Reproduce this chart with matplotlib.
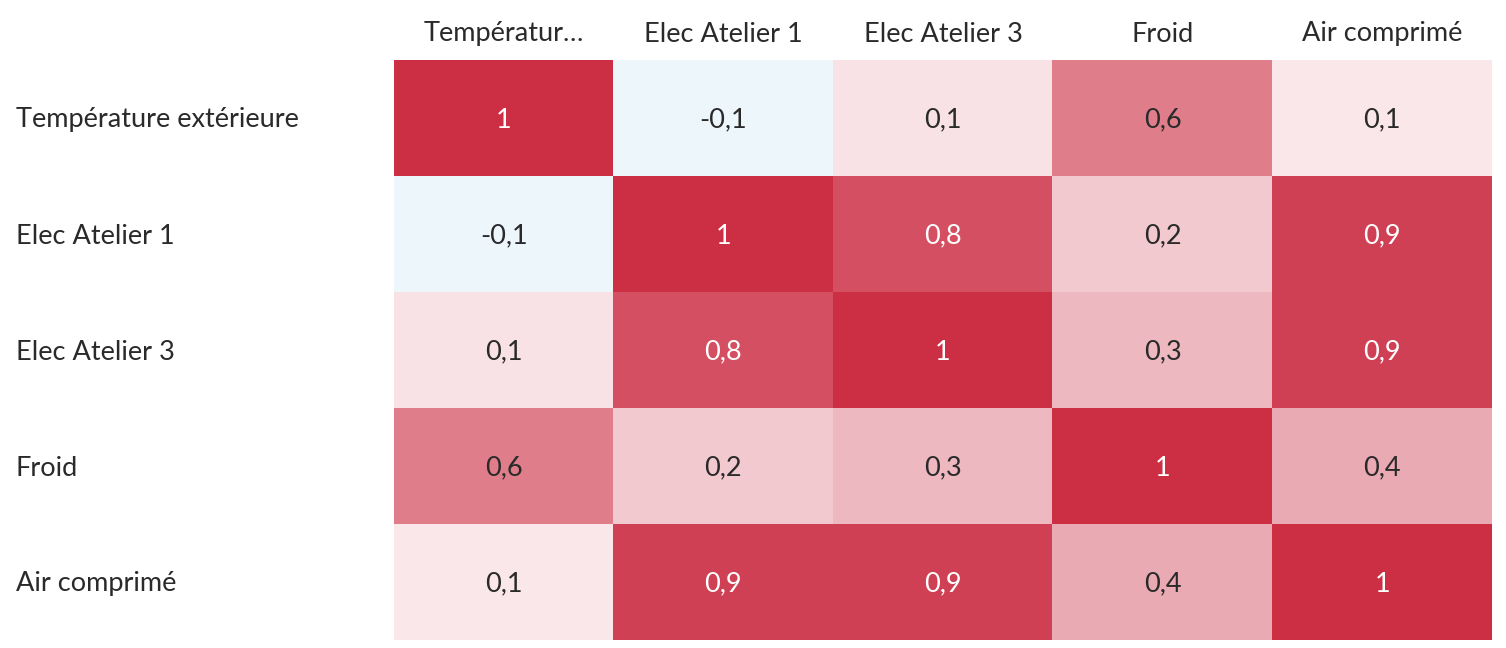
import numpy as np
import matplotlib
matplotlib.use("Agg")
import matplotlib.pyplot as plt
from matplotlib.colors import LinearSegmentedColormap

plt.rcParams['font.family'] = ['Lato', 'DejaVu Sans']

# data
row_labels = ["Température extérieure", "Elec Atelier 1", "Elec Atelier 3", "Froid", "Air comprimé"]
col_labels = ["Températur…", "Elec Atelier 1", "Elec Atelier 3", "Froid", "Air comprimé"]
corr = np.array([
    [1.00, -0.08, 0.14, 0.62, 0.11],
    [-0.08, 1.00, 0.84, 0.25, 0.91],
    [0.14, 0.84, 1.00, 0.34, 0.91],
    [0.62, 0.25, 0.34, 1.00, 0.40],
    [0.11, 0.91, 0.91, 0.40, 1.00],
])

cmap = LinearSegmentedColormap.from_list("div", ["#2E9BD6", "#FFFFFF", "#CC2F44"])

fig = plt.figure(figsize=(15.06, 6.48), dpi=100)
ax = fig.add_axes([394 / 1506, 1 - 640 / 648, 1098 / 1506, 580 / 648])
ax.imshow(corr, cmap=cmap, vmin=-1, vmax=1, aspect='auto', interpolation='nearest')
ax.set_xlim(-0.5, 4.5)
ax.set_ylim(4.5, -0.5)
ax.axis('off')

fs = 19.5
tc = '#2a2a2a'

def fmt(v):
    if abs(v - 1) < 1e-9:
        return "1"
    return f"{v:.1f}".replace('.', ',')

for i in range(corr.shape[0]):
    for j in range(corr.shape[1]):
        v = corr[i, j]
        c = 'white' if v > 0.7 else tc
        ax.text(j, i + 2 / 116, fmt(v), ha='center', va='center', fontsize=fs, color=c)

for j, lab in enumerate(col_labels):
    ax.text(j, -0.5 - 26 / 116, lab, ha='center', va='center', fontsize=fs, color=tc)

for i, lab in enumerate(row_labels):
    fig.text(16 / 1506, 1 - (120 + i * 116) / 648, lab, ha='left', va='center',
             fontsize=fs, color=tc)

fig.savefig("out.png", dpi=100, facecolor='white')
